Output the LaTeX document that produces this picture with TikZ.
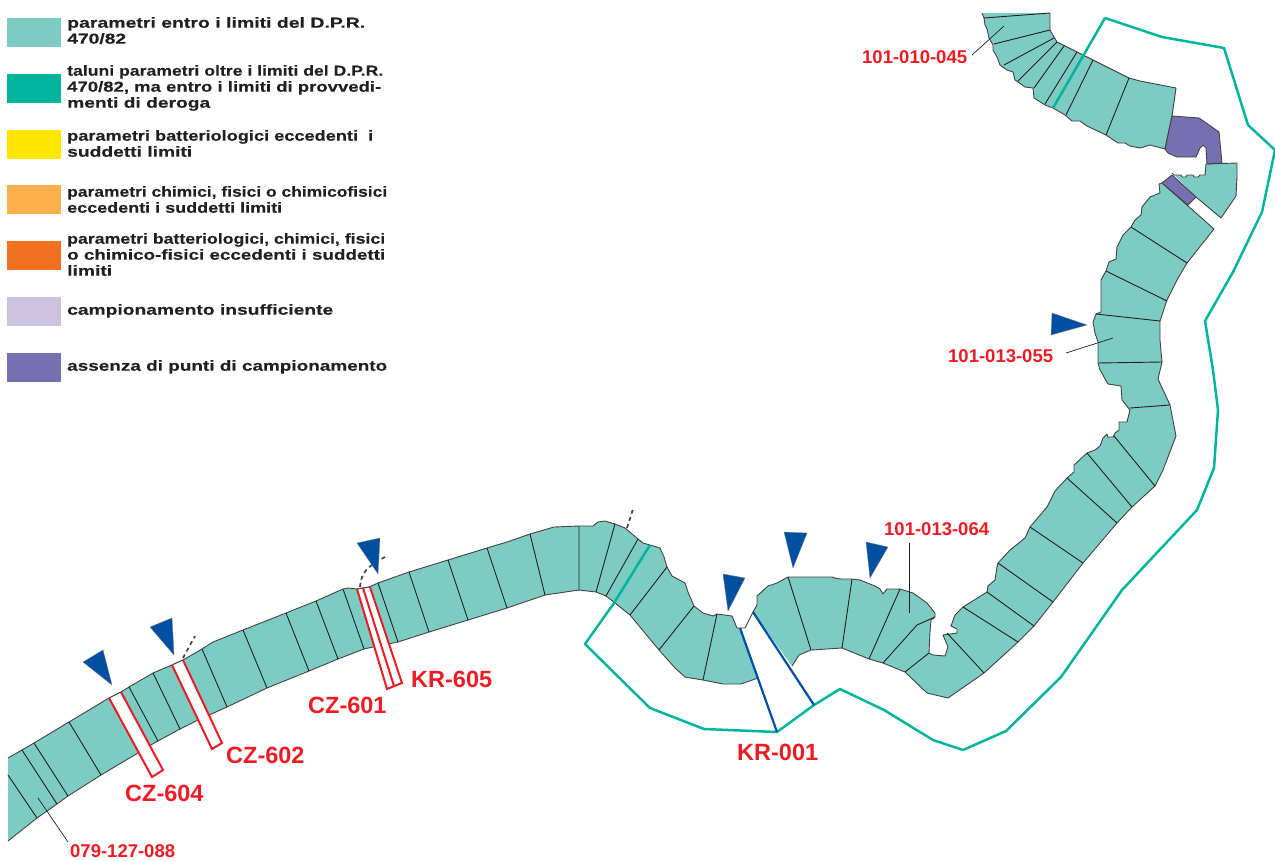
\documentclass[tikz,border=0pt]{standalone}
\usepackage{fontspec}
\usepackage{graphicx}
\setmainfont{Liberation Sans}
\newfontfamily\legfont[FakeStretch=1.2,FakeBold=0.25]{Liberation Sans Bold}
\newfontfamily\codefont{Liberation Sans Bold}
\newcommand{\fitline}[2]{\resizebox{#1pt}{\height}{#2}}
\definecolor{cteal}{HTML}{7DCCC4}
\definecolor{cgreen}{HTML}{00B59C}
\definecolor{cyellow}{HTML}{FFE600}
\definecolor{clorange}{HTML}{FDB04B}
\definecolor{corange}{HTML}{F37021}
\definecolor{clilac}{HTML}{CDC3E0}
\definecolor{cpurple}{HTML}{7670B0}
\definecolor{cblue}{HTML}{004FA3}
\definecolor{cred}{HTML}{ED1C24}
\definecolor{cdark}{HTML}{231F20}
\tikzset{
  swatch/.style={minimum width=54pt,minimum height=29pt,inner sep=0pt,anchor=north west},
  legtext/.style={anchor=north west,inner sep=0pt,align=left,text=cdark,font=\legfont\fontsize{14.5}{16}\selectfont},
  coast/.style={draw=cdark!85,line width=0.9pt,line join=round},
  divider/.style={draw=cdark,line width=0.9pt},
  leader/.style={draw=cdark,line width=0.7pt},
  redline/.style={draw=cred,line width=2pt,line join=miter},
  bluearrow/.style={fill=cblue,draw=cdark!60,line width=0.3pt},
  greenline/.style={draw=cgreen,line width=2.5pt,line join=round},
  blueline/.style={draw=cblue,line width=2.2pt},
  shore/.style={draw=cdark!85,line width=1.7pt,dash pattern=on 4pt off 3.5pt},
  code/.style={anchor=base west,inner sep=0pt,text=cred,font=\codefont\fontsize{18.5}{20}\selectfont},
  bigcode/.style={anchor=base west,inner sep=0pt,text=cred,font=\codefont\fontsize{23.5}{26}\selectfont}
}
\newcommand{\zoneA}{(8,758)--(22,750)--(34,743)--(69,722)--(109,698)--(121,692)--(129,687)--(153,673)--(172,665)--(183,660)--(202,649)--(213,642)--(243,630)--(286,613)--(316,601)--(343,589)--(348,588)--(357,589)--(369,587)--(378,583)--(409,572)--(448,560)--(487,548)--(507,542)--(530,534)--(554,527)--(579,526)--(593,526)--(598,522)--(605,521)--(615,524)--(625,528)--(638,539)--(643,543)--(650,545)--(660,548)--(664,557)--(667,567)--(672,576)--(685,583)--(688,592)--(694,606)--(703,613)--(713,616)--(717,614)--(732,616)--(737,628)--(740,628)--(758,678)--(741,684)--(723,684)--(703,680)--(685,677)--(675,668)--(659,650)--(630,615)--(615,603)--(606,596)--(596,592)--(579,590)--(545,595)--(507,608)--(468,620)--(429,632)--(398,642)--(373,647)--(364,649)--(338,659)--(309,671)--(267,688)--(227,707)--(198,720)--(180,729)--(158,741)--(149,746)--(138,753)--(101,775)--(68,796)--(57,804)--(37,818)--(8,841)}
\newcommand{\zoneB}{(753,612)--(757,605)--(757,596)--(768,586)--(777,583)--(788,577)--(832,577)--(835,578)--(841,579)--(852,579)--(860,580)--(875,586)--(880,589)--(883,594)--(887,589)--(900,589)--(913,593)--(927,603)--(935,613)--(935,617)--(931,620)--(930,632)--(929,653)--(933,655)--(945,656)--(948,647)--(943,635)--(957,633)--(957,629)--(951,626)--(955,615)--(963,607)--(987,592)--(988,586)--(995,580)--(997,567)--(998,563)--(1010,550)--(1025,538)--(1030,527)--(1047,507)--(1055,491)--(1067,478)--(1074,472)--(1074,465)--(1087,453)--(1095,450)--(1100,446)--(1103,438)--(1107,434)--(1108,437)--(1113,437)--(1115,433)--(1119,430)--(1119,422)--(1127,422)--(1130,410)--(1122,400)--(1121,386)--(1108,384)--(1100,370)--(1098,363)--(1098,342)--(1095,333)--(1093,322)--(1096,314)--(1101,312)--(1101,280)--(1106,271)--(1109,262)--(1116,259)--(1117,247)--(1123,235)--(1131,227)--(1135,220)--(1141,215)--(1142,207)--(1150,197)--(1160,193)--(1159,184)--(1162,183)--(1214,229)--(1187,263)--(1177,280)--(1167,300)--(1160,321)--(1160,340)--(1162,362)--(1158,379)--(1170,405)--(1176,436)--(1163,470)--(1155,486)--(1132,507)--(1117,523)--(1083,563)--(1053,602)--(1034,626)--(1018,642)--(984,673)--(948,698)--(927,693)--(905,672)--(883,663)--(869,659)--(842,648)--(811,650)--(799,655)--(792,666)}
\newcommand{\zoneC}{(1050,13)--(1050,30)--(1057,42)--(1077,52)--(1093,60)--(1129,78)--(1140,81)--(1176,88)--(1172,116)--(1165,149)--(1150,145)--(1140,148)--(1130,146)--(1125,143)--(1118,143)--(1106,135)--(1087,126)--(1080,121)--(1072,121)--(1065,115)--(1053,108)--(1045,105)--(1034,98)--(1033,88)--(1025,87)--(1015,80)--(1013,72)--(1007,70)--(1000,65)--(997,57)--(993,50)--(993,45)--(989,38)--(987,29)--(985,25)--(984,18)--(982,13)}
\newcommand{\zoneE}{(1172,173)--(1174,175)--(1181,175)--(1182,177)--(1186,177)--(1187,175)--(1193,175)--(1194,177)--(1198,177)--(1200,175)--(1205,175)--(1206,164)--(1237,163)--(1237,177)--(1236,196)--(1221,218)--(1196,197)}
\begin{document}
\begin{tikzpicture}[x=1pt,y=-1pt]
\useasboundingbox (0,0) rectangle (1275,860);
% legend
\node[swatch,fill=cteal] (s1) at (7,18) {};
\node[swatch,fill=cgreen] (s2) at (7,74) {};
\node[swatch,fill=cyellow] (s3) at (7,130) {};
\node[swatch,fill=clorange] (s4) at (7,185) {};
\node[swatch,fill=corange] (s5) at (7,241) {};
\node[swatch,fill=clilac] (s6) at (7,297) {};
\node[swatch,fill=cpurple] (s7) at (7,353) {};
\node[legtext] (t1) at (67,17) {\fitline{298}{parametri entro i limiti del D.P.R.}\\\fitline{59}{470/82}};
\node[legtext] (t2) at (67,65) {\fitline{316}{taluni parametri oltre i limiti del D.P.R.}\\\fitline{314}{470/82, ma entro i limiti di provvedi-}\\\fitline{143}{menti di deroga}};
\node[legtext] (t3) at (67,130) {\fitline{306}{parametri batteriologici eccedenti\ \ i}\\\fitline{125}{suddetti limiti}};
\node[legtext] (t4) at (67,186) {\fitline{320}{parametri chimici, fisici o chimicofisici}\\\fitline{215}{eccedenti i suddetti limiti}};
\node[legtext] (t5) at (67,233) {\fitline{318}{parametri batteriologici, chimici, fisici}\\\fitline{318}{o chimico-fisici eccedenti i suddetti}\\\fitline{45}{limiti}};
\node[legtext] (t6) at (67,304) {\fitline{266}{campionamento insufficiente}};
\node[legtext] (t7) at (67,360) {\fitline{320}{assenza di punti di campionamento}};
% zones
\fill[cteal] \zoneA -- cycle; \draw[coast] \zoneA;
\fill[cteal] \zoneB -- cycle; \draw[coast] \zoneB;
\draw[coast] (740,628)--(745,628)--(753,612);
\fill[cteal] \zoneC -- cycle; \draw[coast] \zoneC;
\fill[cteal] \zoneE -- cycle; \draw[coast] \zoneE;
\draw[coast,fill=cpurple] (1172,116)--(1199,118)--(1219,132)--(1222,163)--(1207,164)--(1206,148)--(1203,145)--(1200,148)--(1196,157)--(1177,157)--(1168,153)--(1165,149)--cycle;
\draw[coast,fill=cpurple] (1162,183)--(1172,175)--(1196,197)--(1188,205)--cycle;
% dividers
\draw[divider] (8,775)--(37,818) (22,750)--(57,804) (34,743)--(68,796) (69,722)--(101,775) (129,687)--(158,741) (153,673)--(180,729) (202,649)--(227,707) (243,630)--(267,688) (286,613)--(309,671) (316,601)--(338,659) (343,589)--(364,649) (378,583)--(398,642) (409,572)--(429,632) (448,560)--(468,620) (487,548)--(507,608) (530,534)--(545,595) (579,526)--(579,590) (615,524)--(596,592) (638,539)--(606,596) (667,567)--(630,615) (694,606)--(659,650) (717,614)--(703,680);
\draw[divider] (788,577)--(811,650) (852,579)--(842,648) (900,589)--(869,659) (935,617)--(917,625)--(883,663) (929,653)--(905,672) (947,633)--(984,673) (963,607)--(1018,642) (987,592)--(1034,626) (998,563)--(1053,602) (1030,527)--(1083,563) (1067,478)--(1117,523) (1087,453)--(1132,507) (1114,436)--(1155,486) (1130,408)--(1170,405) (1098,363)--(1162,362) (1096,314)--(1160,321) (1106,271)--(1167,301) (1131,227)--(1187,263);
\draw[divider] (984,18)--(1050,13) (994,44)--(1050,30) (1004,65)--(1054,38) (1018,81)--(1057,42) (1034,88)--(1064,46) (1045,104)--(1077,52) (1066,115)--(1093,60) (1106,135)--(1129,78);
% red bands
\fill[white] (109,698)--(121,692)--(163,770)--(152,777)--cycle;
\draw[redline] (109,698)--(152,777)--(163,770)--(121,692);
\fill[white] (172,665)--(183,660)--(222,743)--(212,749)--cycle;
\draw[redline] (172,665)--(212,749)--(222,743)--(183,660);
\fill[white] (357,589)--(370,587)--(402,683)--(387,689)--cycle;
\draw[redline] (357,589)--(387,689)--(402,683)--(370,587) (363,588)--(394,686);
\draw[coast] (109,698)--(121,692) (172,665)--(183,660) (357,589)--(370,587);
% boundary
\draw[greenline] (650,545)--(614,603)--(585,644)--(650,708)--(704,729)--(777,732)--(814,705)--(840,689)--(884,710)--(933,740)--(963,750)--(1006,731)--(1061,677)--(1122,590)--(1197,510)--(1214,468)--(1218,410)--(1213,370)--(1205,321)--(1217,300)--(1233,272)--(1262,212)--(1275,150)--(1248,125)--(1224,48)--(1162,37)--(1105,18)--(1053,108);
\draw[blueline] (740,628)--(777,732) (753,612)--(814,705);
% dashed shore
\draw[shore] (183,658)--(195,636);
\draw[shore] (360,587)..controls (361,572) and (368,566)..(385,557);
\draw[shore] (627,528)--(633,509);
% arrows
\draw[bluearrow] (83,662)--(103,650)--(112,685)--cycle;
\draw[bluearrow] (150,627)--(172,618)--(174,655)--cycle;
\draw[bluearrow] (357,543)--(380,538)--(378,574)--cycle;
\draw[bluearrow] (723,574)--(745,578)--(728,611)--cycle;
\draw[bluearrow] (784,532)--(807,533)--(793,568)--cycle;
\draw[bluearrow] (866,542)--(888,547)--(870,578)--cycle;
\draw[bluearrow] (1052,313)--(1087,325)--(1051,335)--cycle;
% labels
\node[code] (l45) at (862,63) {101-010-045};
\node[code] (l55) at (948,362) {101-013-055};
\node[code] (l64) at (884,535) {101-013-064};
\node[code] (l88) at (70,857) {079-127-088};
\node[bigcode] (c604) at (125,801) {CZ-604};
\node[bigcode] (c602) at (226,763) {CZ-602};
\node[bigcode] (c601) at (308,713) {CZ-601};
\node[bigcode] (k605) at (411,687) {KR-605};
\node[bigcode] (k001) at (737,760) {KR-001};
\coordinate (a45) at (972,55); \coordinate (b45) at (1004,26);
\coordinate (a55) at (1066,353); \coordinate (b55) at (1113,338);
\coordinate (a64) at (909,543); \coordinate (b64) at (909,613);
\coordinate (a88) at (68,842); \coordinate (b88) at (38,798);
\draw[leader] (a45)--(b45);
\draw[leader] (a55)--(b55);
\draw[leader] (a64)--(b64);
\draw[leader] (a88)--(b88);
\end{tikzpicture}
\end{document}
